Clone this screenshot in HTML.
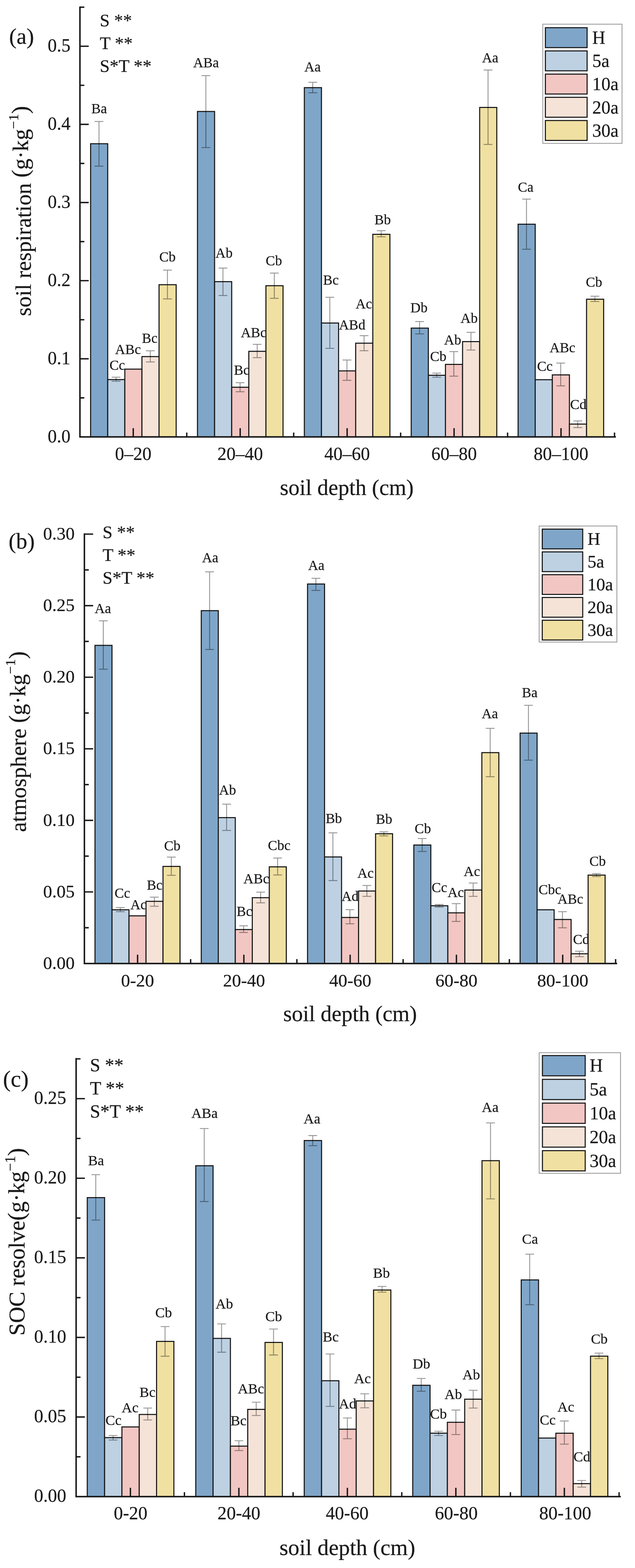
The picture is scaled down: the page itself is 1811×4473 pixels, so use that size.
<!DOCTYPE html>
<html lang="en">
<head>
<meta charset="utf-8">
<title>Soil respiration, atmosphere and SOC resolve by soil depth</title>
<style>
html,body{margin:0;padding:0;background:#fff;}
body{width:1811px;height:4473px;overflow:hidden;}
svg{display:block;font-family:'Liberation Serif', 'DejaVu Serif', serif;}
text{stroke:#1a1a1a;stroke-width:0.35px;paint-order:stroke;}
</style>
</head>
<body>
<svg width="1811" height="4473" viewBox="0 0 1811 4473">
<rect width="1811" height="4473" fill="#fff"/>
<g id="chart-a">
<g class="s0">
<rect x="258.4" y="410.0" width="48.8" height="836.4" fill="#7fa6c9" stroke="#161616" stroke-width="3"/>
<rect x="563.2" y="318.0" width="48.8" height="928.4" fill="#7fa6c9" stroke="#161616" stroke-width="3"/>
<rect x="868.0" y="250.0" width="48.8" height="996.4" fill="#7fa6c9" stroke="#161616" stroke-width="3"/>
<rect x="1172.8" y="936.0" width="48.8" height="310.4" fill="#7fa6c9" stroke="#161616" stroke-width="3"/>
<rect x="1477.6" y="639.6" width="48.8" height="606.8" fill="#7fa6c9" stroke="#161616" stroke-width="3"/>
<path d="M282.3 346.4V474.0M269.8 346.4H294.8M269.8 474.0H294.8" stroke="#000" stroke-opacity="0.42" stroke-width="2.5" fill="none"/>
<path d="M587.1 215.8V421.1M574.6 215.8H599.6M574.6 421.1H599.6" stroke="#000" stroke-opacity="0.42" stroke-width="2.5" fill="none"/>
<path d="M891.9 234.7V264.7M879.4 234.7H904.4M879.4 264.7H904.4" stroke="#000" stroke-opacity="0.42" stroke-width="2.5" fill="none"/>
<path d="M1196.7 917.3V952.5M1184.2 917.3H1209.2M1184.2 952.5H1209.2" stroke="#000" stroke-opacity="0.42" stroke-width="2.5" fill="none"/>
<path d="M1501.5 568.0V711.0M1489.0 568.0H1514.0M1489.0 711.0H1514.0" stroke="#000" stroke-opacity="0.42" stroke-width="2.5" fill="none"/>
<text x="282.8" y="323.4" font-size="40" text-anchor="middle" fill="#1a1a1a" class="bl">Ba</text>
<text x="587.6" y="192.4" font-size="40" text-anchor="middle" fill="#1a1a1a" class="bl">ABa</text>
<text x="891.4" y="204.3" font-size="40" text-anchor="middle" fill="#1a1a1a" class="bl">Aa</text>
<text x="1195.0" y="891.3" font-size="40" text-anchor="middle" fill="#1a1a1a" class="bl">Db</text>
<text x="1499.2" y="547.2" font-size="40" text-anchor="middle" fill="#1a1a1a" class="bl">Ca</text>
</g>
<g class="s1">
<rect x="307.2" y="1082.8" width="48.8" height="163.6" fill="#bdd1e3" stroke="#161616" stroke-width="3"/>
<rect x="612.0" y="803.5" width="48.8" height="442.9" fill="#bdd1e3" stroke="#161616" stroke-width="3"/>
<rect x="916.8" y="921.5" width="48.8" height="324.9" fill="#bdd1e3" stroke="#161616" stroke-width="3"/>
<rect x="1221.6" y="1070.5" width="48.8" height="175.9" fill="#bdd1e3" stroke="#161616" stroke-width="3"/>
<rect x="1526.4" y="1083.2" width="48.8" height="163.2" fill="#bdd1e3" stroke="#161616" stroke-width="3"/>
<path d="M331.1 1076.0V1087.6M318.6 1076.0H343.6M318.6 1087.6H343.6" stroke="#000" stroke-opacity="0.42" stroke-width="2.5" fill="none"/>
<path d="M635.9 764.7V843.0M623.4 764.7H648.4M623.4 843.0H648.4" stroke="#000" stroke-opacity="0.42" stroke-width="2.5" fill="none"/>
<path d="M940.7 848.0V993.7M928.2 848.0H953.2M928.2 993.7H953.2" stroke="#000" stroke-opacity="0.42" stroke-width="2.5" fill="none"/>
<path d="M1245.5 1064.4V1076.0M1233.0 1064.4H1258.0M1233.0 1076.0H1258.0" stroke="#000" stroke-opacity="0.42" stroke-width="2.5" fill="none"/>
<text x="334.4" y="1055.4" font-size="40" text-anchor="middle" fill="#1a1a1a" class="bl">Cc</text>
<text x="639.0" y="734.8" font-size="40" text-anchor="middle" fill="#1a1a1a" class="bl">Ab</text>
<text x="943.8" y="812.4" font-size="40" text-anchor="middle" fill="#1a1a1a" class="bl">Bc</text>
<text x="1249.8" y="1030.0" font-size="40" text-anchor="middle" fill="#1a1a1a" class="bl">Cb</text>
<text x="1553.9" y="1057.5" font-size="40" text-anchor="middle" fill="#1a1a1a" class="bl">Cc</text>
</g>
<g class="s2">
<rect x="356.0" y="1053.0" width="48.8" height="193.4" fill="#f2c6c2" stroke="#161616" stroke-width="3"/>
<rect x="660.8" y="1104.7" width="48.8" height="141.7" fill="#f2c6c2" stroke="#161616" stroke-width="3"/>
<rect x="965.6" y="1058.0" width="48.8" height="188.4" fill="#f2c6c2" stroke="#161616" stroke-width="3"/>
<rect x="1270.4" y="1039.5" width="48.8" height="206.9" fill="#f2c6c2" stroke="#161616" stroke-width="3"/>
<rect x="1575.2" y="1069.4" width="48.8" height="177.0" fill="#f2c6c2" stroke="#161616" stroke-width="3"/>
<path d="M684.7 1091.7V1117.5M672.2 1091.7H697.2M672.2 1117.5H697.2" stroke="#000" stroke-opacity="0.42" stroke-width="2.5" fill="none"/>
<path d="M989.5 1027.0V1085.0M977.0 1027.0H1002.0M977.0 1085.0H1002.0" stroke="#000" stroke-opacity="0.42" stroke-width="2.5" fill="none"/>
<path d="M1294.3 1003.0V1073.0M1281.8 1003.0H1306.8M1281.8 1073.0H1306.8" stroke="#000" stroke-opacity="0.42" stroke-width="2.5" fill="none"/>
<path d="M1599.1 1035.7V1100.7M1586.6 1035.7H1611.6M1586.6 1100.7H1611.6" stroke="#000" stroke-opacity="0.42" stroke-width="2.5" fill="none"/>
<text x="365.0" y="1010.0" font-size="40" text-anchor="middle" fill="#1a1a1a" class="bl">ABc</text>
<text x="689.4" y="1068.6" font-size="40" text-anchor="middle" fill="#1a1a1a" class="bl">Bc</text>
<text x="1004.2" y="940.2" font-size="40" text-anchor="middle" fill="#1a1a1a" class="bl">ABd</text>
<text x="1291.0" y="983.3" font-size="40" text-anchor="middle" fill="#1a1a1a" class="bl">Ab</text>
<text x="1604.2" y="1004.6" font-size="40" text-anchor="middle" fill="#1a1a1a" class="bl">ABc</text>
</g>
<g class="s3">
<rect x="404.8" y="1017.2" width="48.8" height="229.2" fill="#f5e3d8" stroke="#161616" stroke-width="3"/>
<rect x="709.6" y="1002.2" width="48.8" height="244.2" fill="#f5e3d8" stroke="#161616" stroke-width="3"/>
<rect x="1014.4" y="979.0" width="48.8" height="267.4" fill="#f5e3d8" stroke="#161616" stroke-width="3"/>
<rect x="1319.2" y="974.5" width="48.8" height="271.9" fill="#f5e3d8" stroke="#161616" stroke-width="3"/>
<rect x="1624.0" y="1209.8" width="48.8" height="36.6" fill="#f5e3d8" stroke="#161616" stroke-width="3"/>
<path d="M428.7 1000.7V1032.4M416.2 1000.7H441.2M416.2 1032.4H441.2" stroke="#000" stroke-opacity="0.42" stroke-width="2.5" fill="none"/>
<path d="M733.5 982.3V1020.3M721.0 982.3H746.0M721.0 1020.3H746.0" stroke="#000" stroke-opacity="0.42" stroke-width="2.5" fill="none"/>
<path d="M1038.3 957.4V1000.6M1025.8 957.4H1050.8M1025.8 1000.6H1050.8" stroke="#000" stroke-opacity="0.42" stroke-width="2.5" fill="none"/>
<path d="M1343.1 948.0V998.6M1330.6 948.0H1355.6M1330.6 998.6H1355.6" stroke="#000" stroke-opacity="0.42" stroke-width="2.5" fill="none"/>
<path d="M1647.9 1200.8V1219.8M1635.4 1200.8H1660.4M1635.4 1219.8H1660.4" stroke="#000" stroke-opacity="0.42" stroke-width="2.5" fill="none"/>
<text x="427.0" y="977.7" font-size="40" text-anchor="middle" fill="#1a1a1a" class="bl">Bc</text>
<text x="723.4" y="962.0" font-size="40" text-anchor="middle" fill="#1a1a1a" class="bl">ABc</text>
<text x="1037.6" y="879.7" font-size="40" text-anchor="middle" fill="#1a1a1a" class="bl">Ac</text>
<text x="1338.0" y="921.2" font-size="40" text-anchor="middle" fill="#1a1a1a" class="bl">Ab</text>
<text x="1649.4" y="1166.5" font-size="40" text-anchor="middle" fill="#1a1a1a" class="bl">Cd</text>
</g>
<g class="s4">
<rect x="453.6" y="812.2" width="48.8" height="434.2" fill="#f0e0a2" stroke="#161616" stroke-width="3"/>
<rect x="758.4" y="815.0" width="48.8" height="431.4" fill="#f0e0a2" stroke="#161616" stroke-width="3"/>
<rect x="1063.2" y="668.4" width="48.8" height="578.0" fill="#f0e0a2" stroke="#161616" stroke-width="3"/>
<rect x="1368.0" y="306.5" width="48.8" height="939.9" fill="#f0e0a2" stroke="#161616" stroke-width="3"/>
<rect x="1672.8" y="853.6" width="48.8" height="392.8" fill="#f0e0a2" stroke="#161616" stroke-width="3"/>
<path d="M477.5 770.4V852.7M465.0 770.4H490.0M465.0 852.7H490.0" stroke="#000" stroke-opacity="0.42" stroke-width="2.5" fill="none"/>
<path d="M782.3 779.0V851.0M769.8 779.0H794.8M769.8 851.0H794.8" stroke="#000" stroke-opacity="0.42" stroke-width="2.5" fill="none"/>
<path d="M1087.1 658.0V675.5M1074.6 658.0H1099.6M1074.6 675.5H1099.6" stroke="#000" stroke-opacity="0.42" stroke-width="2.5" fill="none"/>
<path d="M1391.9 199.7V412.0M1379.4 199.7H1404.4M1379.4 412.0H1404.4" stroke="#000" stroke-opacity="0.42" stroke-width="2.5" fill="none"/>
<path d="M1696.7 845.0V860.0M1684.2 845.0H1709.2M1684.2 860.0H1709.2" stroke="#000" stroke-opacity="0.42" stroke-width="2.5" fill="none"/>
<text x="477.6" y="746.3" font-size="40" text-anchor="middle" fill="#1a1a1a" class="bl">Cb</text>
<text x="781.2" y="757.2" font-size="40" text-anchor="middle" fill="#1a1a1a" class="bl">Cb</text>
<text x="1091.4" y="639.8" font-size="40" text-anchor="middle" fill="#1a1a1a" class="bl">Bb</text>
<text x="1398.0" y="178.4" font-size="40" text-anchor="middle" fill="#1a1a1a" class="bl">Aa</text>
<text x="1694.2" y="817.6" font-size="40" text-anchor="middle" fill="#1a1a1a" class="bl">Cb</text>
</g>
<path d="M228.0 18.4V1248.5M225.9 1246.4H1756.5" stroke="#161616" stroke-width="4.2" fill="none"/>
<path d="M228.0 1135.0h12.5M228.0 1023.5h25M228.0 912.1h12.5M228.0 800.6h25M228.0 689.2h12.5M228.0 577.7h25M228.0 466.3h12.5M228.0 354.8h25M228.0 243.4h12.5M228.0 131.9h25M228.0 20.5h12.5M380.0 1246.4v-25M685.0 1246.4v-25M990.0 1246.4v-25M1295.0 1246.4v-25M1600.0 1246.4v-25M532.6 1246.4v-12.5M837.6 1246.4v-12.5M1142.6 1246.4v-12.5M1447.6 1246.4v-12.5M1752.6 1246.4v-12.5" stroke="#161616" stroke-width="3.9" fill="none"/>
<text x="201.0" y="1261.7" font-size="52" text-anchor="end" fill="#1a1a1a" class="tk">0.0</text>
<text x="201.0" y="1038.8" font-size="52" text-anchor="end" fill="#1a1a1a" class="tk">0.1</text>
<text x="201.0" y="815.9" font-size="52" text-anchor="end" fill="#1a1a1a" class="tk">0.2</text>
<text x="201.0" y="593.0" font-size="52" text-anchor="end" fill="#1a1a1a" class="tk">0.3</text>
<text x="201.0" y="370.1" font-size="52" text-anchor="end" fill="#1a1a1a" class="tk">0.4</text>
<text x="201.0" y="147.2" font-size="52" text-anchor="end" fill="#1a1a1a" class="tk">0.5</text>
<text x="380.0" y="1312.0" font-size="52" text-anchor="middle" fill="#1a1a1a" class="tk">0–20</text>
<text x="685.0" y="1312.0" font-size="52" text-anchor="middle" fill="#1a1a1a" class="tk">20–40</text>
<text x="990.0" y="1312.0" font-size="52" text-anchor="middle" fill="#1a1a1a" class="tk">40–60</text>
<text x="1295.0" y="1312.0" font-size="52" text-anchor="middle" fill="#1a1a1a" class="tk">60–80</text>
<text x="1600.0" y="1312.0" font-size="52" text-anchor="middle" fill="#1a1a1a" class="tk">80–100</text>
<text x="989.0" y="1412.0" font-size="63" text-anchor="middle" fill="#1a1a1a" class="ttl">soil depth (cm)</text>
<text transform="translate(88.0 602.0) rotate(-90)" font-size="63.5" text-anchor="middle" fill="#1a1a1a" class="ttl">soil respiration <tspan dy="-8.0" font-size="67.3">(</tspan><tspan>g·kg</tspan><tspan dy="-27.6" font-size="40.6">−1</tspan><tspan dy="27.6" font-size="67.3">)</tspan></text>
<text x="26.0" y="124.8" font-size="64" text-anchor="start" fill="#1a1a1a" class="pn">(a)</text>
<text x="284.5" y="74.8" font-size="51" text-anchor="start" fill="#1a1a1a" class="st">S **</text>
<text x="284.5" y="140.1" font-size="51" text-anchor="start" fill="#1a1a1a" class="st">T **</text>
<text x="284.5" y="205.4" font-size="51" text-anchor="start" fill="#1a1a1a" class="st">S*T **</text>
<rect x="1548.0" y="69.0" width="226.0" height="340.0" fill="#fff" stroke="#a2a2a2" stroke-width="2.6"/>
<rect x="1555.4" y="79.0" width="119.0" height="56.8" fill="#7fa6c9" stroke="#161616" stroke-width="3"/>
<text x="1689.0" y="125.0" font-size="52" text-anchor="start" fill="#1a1a1a" class="lg">H</text>
<rect x="1555.4" y="145.2" width="119.0" height="56.8" fill="#bdd1e3" stroke="#161616" stroke-width="3"/>
<text x="1689.0" y="191.2" font-size="52" text-anchor="start" fill="#1a1a1a" class="lg">5a</text>
<rect x="1555.4" y="211.4" width="119.0" height="56.8" fill="#f2c6c2" stroke="#161616" stroke-width="3"/>
<text x="1689.0" y="257.4" font-size="52" text-anchor="start" fill="#1a1a1a" class="lg">10a</text>
<rect x="1555.4" y="277.6" width="119.0" height="56.8" fill="#f5e3d8" stroke="#161616" stroke-width="3"/>
<text x="1689.0" y="323.6" font-size="52" text-anchor="start" fill="#1a1a1a" class="lg">20a</text>
<rect x="1555.4" y="343.8" width="119.0" height="56.8" fill="#f0e0a2" stroke="#161616" stroke-width="3"/>
<text x="1689.0" y="389.8" font-size="52" text-anchor="start" fill="#1a1a1a" class="lg">30a</text>
</g>
<g id="chart-b">
<g class="s0">
<rect x="270.9" y="1841.0" width="48.5" height="907.6" fill="#7fa6c9" stroke="#161616" stroke-width="3"/>
<rect x="574.0" y="1742.0" width="48.5" height="1006.6" fill="#7fa6c9" stroke="#161616" stroke-width="3"/>
<rect x="877.1" y="1666.0" width="48.5" height="1082.6" fill="#7fa6c9" stroke="#161616" stroke-width="3"/>
<rect x="1180.2" y="2410.6" width="48.5" height="338.0" fill="#7fa6c9" stroke="#161616" stroke-width="3"/>
<rect x="1483.3" y="2091.3" width="48.5" height="657.3" fill="#7fa6c9" stroke="#161616" stroke-width="3"/>
<path d="M294.6 1771.0V1909.0M282.1 1771.0H307.1M282.1 1909.0H307.1" stroke="#000" stroke-opacity="0.42" stroke-width="2.5" fill="none"/>
<path d="M597.8 1631.2V1852.8M585.2 1631.2H610.2M585.2 1852.8H610.2" stroke="#000" stroke-opacity="0.42" stroke-width="2.5" fill="none"/>
<path d="M900.9 1649.7V1684.2M888.4 1649.7H913.4M888.4 1684.2H913.4" stroke="#000" stroke-opacity="0.42" stroke-width="2.5" fill="none"/>
<path d="M1204.0 2392.0V2429.0M1191.5 2392.0H1216.5M1191.5 2429.0H1216.5" stroke="#000" stroke-opacity="0.42" stroke-width="2.5" fill="none"/>
<path d="M1507.1 2012.0V2168.6M1494.6 2012.0H1519.6M1494.6 2168.6H1519.6" stroke="#000" stroke-opacity="0.42" stroke-width="2.5" fill="none"/>
<text x="293.4" y="1749.2" font-size="40" text-anchor="middle" fill="#1a1a1a" class="bl">Aa</text>
<text x="599.5" y="1604.2" font-size="40" text-anchor="middle" fill="#1a1a1a" class="bl">Aa</text>
<text x="902.0" y="1625.5" font-size="40" text-anchor="middle" fill="#1a1a1a" class="bl">Aa</text>
<text x="1205.8" y="2377.0" font-size="40" text-anchor="middle" fill="#1a1a1a" class="bl">Cb</text>
<text x="1510.7" y="1989.0" font-size="40" text-anchor="middle" fill="#1a1a1a" class="bl">Ba</text>
</g>
<g class="s1">
<rect x="319.4" y="2595.3" width="48.5" height="153.3" fill="#bdd1e3" stroke="#161616" stroke-width="3"/>
<rect x="622.5" y="2332.4" width="48.5" height="416.2" fill="#bdd1e3" stroke="#161616" stroke-width="3"/>
<rect x="925.6" y="2444.6" width="48.5" height="304.0" fill="#bdd1e3" stroke="#161616" stroke-width="3"/>
<rect x="1228.7" y="2583.8" width="48.5" height="164.8" fill="#bdd1e3" stroke="#161616" stroke-width="3"/>
<rect x="1531.8" y="2595.3" width="48.5" height="153.3" fill="#bdd1e3" stroke="#161616" stroke-width="3"/>
<path d="M343.1 2589.0V2600.7M330.6 2589.0H355.6M330.6 2600.7H355.6" stroke="#000" stroke-opacity="0.42" stroke-width="2.5" fill="none"/>
<path d="M646.2 2294.0V2368.9M633.8 2294.0H658.8M633.8 2368.9H658.8" stroke="#000" stroke-opacity="0.42" stroke-width="2.5" fill="none"/>
<path d="M949.4 2375.8V2512.0M936.9 2375.8H961.9M936.9 2512.0H961.9" stroke="#000" stroke-opacity="0.42" stroke-width="2.5" fill="none"/>
<path d="M1252.5 2580.3V2587.6M1240.0 2580.3H1265.0M1240.0 2587.6H1265.0" stroke="#000" stroke-opacity="0.42" stroke-width="2.5" fill="none"/>
<text x="349.0" y="2561.0" font-size="40" text-anchor="middle" fill="#1a1a1a" class="bl">Cc</text>
<text x="648.9" y="2266.5" font-size="40" text-anchor="middle" fill="#1a1a1a" class="bl">Ab</text>
<text x="952.0" y="2348.0" font-size="40" text-anchor="middle" fill="#1a1a1a" class="bl">Bb</text>
<text x="1253.2" y="2545.0" font-size="40" text-anchor="middle" fill="#1a1a1a" class="bl">Cc</text>
<text x="1568.2" y="2550.7" font-size="40" text-anchor="middle" fill="#1a1a1a" class="bl">Cbc</text>
</g>
<g class="s2">
<rect x="367.9" y="2612.6" width="48.5" height="136.0" fill="#f2c6c2" stroke="#161616" stroke-width="3"/>
<rect x="671.0" y="2651.7" width="48.5" height="96.9" fill="#f2c6c2" stroke="#161616" stroke-width="3"/>
<rect x="974.1" y="2617.2" width="48.5" height="131.4" fill="#f2c6c2" stroke="#161616" stroke-width="3"/>
<rect x="1277.2" y="2604.0" width="48.5" height="144.6" fill="#f2c6c2" stroke="#161616" stroke-width="3"/>
<rect x="1580.3" y="2623.0" width="48.5" height="125.6" fill="#f2c6c2" stroke="#161616" stroke-width="3"/>
<path d="M694.8 2641.0V2660.0M682.2 2641.0H707.2M682.2 2660.0H707.2" stroke="#000" stroke-opacity="0.42" stroke-width="2.5" fill="none"/>
<path d="M997.9 2595.0V2635.3M985.4 2595.0H1010.4M985.4 2635.3H1010.4" stroke="#000" stroke-opacity="0.42" stroke-width="2.5" fill="none"/>
<path d="M1301.0 2577.7V2628.4M1288.5 2577.7H1313.5M1288.5 2628.4H1313.5" stroke="#000" stroke-opacity="0.42" stroke-width="2.5" fill="none"/>
<path d="M1604.1 2600.7V2646.8M1591.6 2600.7H1616.6M1591.6 2646.8H1616.6" stroke="#000" stroke-opacity="0.42" stroke-width="2.5" fill="none"/>
<text x="395.0" y="2593.8" font-size="40" text-anchor="middle" fill="#1a1a1a" class="bl">Ac</text>
<text x="697.0" y="2612.8" font-size="40" text-anchor="middle" fill="#1a1a1a" class="bl">Bc</text>
<text x="998.4" y="2569.7" font-size="40" text-anchor="middle" fill="#1a1a1a" class="bl">Ad</text>
<text x="1299.8" y="2559.3" font-size="40" text-anchor="middle" fill="#1a1a1a" class="bl">Ac</text>
<text x="1626.6" y="2578.3" font-size="40" text-anchor="middle" fill="#1a1a1a" class="bl">ABc</text>
</g>
<g class="s3">
<rect x="416.4" y="2571.2" width="48.5" height="177.4" fill="#f5e3d8" stroke="#161616" stroke-width="3"/>
<rect x="719.5" y="2560.8" width="48.5" height="187.8" fill="#f5e3d8" stroke="#161616" stroke-width="3"/>
<rect x="1022.6" y="2541.8" width="48.5" height="206.8" fill="#f5e3d8" stroke="#161616" stroke-width="3"/>
<rect x="1325.7" y="2539.0" width="48.5" height="209.6" fill="#f5e3d8" stroke="#161616" stroke-width="3"/>
<rect x="1628.8" y="2720.8" width="48.5" height="27.8" fill="#f5e3d8" stroke="#161616" stroke-width="3"/>
<path d="M440.1 2559.3V2585.2M427.6 2559.3H452.6M427.6 2585.2H452.6" stroke="#000" stroke-opacity="0.42" stroke-width="2.5" fill="none"/>
<path d="M743.2 2545.0V2575.4M730.8 2545.0H755.8M730.8 2575.4H755.8" stroke="#000" stroke-opacity="0.42" stroke-width="2.5" fill="none"/>
<path d="M1046.3 2526.0V2557.0M1033.8 2526.0H1058.8M1033.8 2557.0H1058.8" stroke="#000" stroke-opacity="0.42" stroke-width="2.5" fill="none"/>
<path d="M1349.5 2519.0V2557.0M1337.0 2519.0H1362.0M1337.0 2557.0H1362.0" stroke="#000" stroke-opacity="0.42" stroke-width="2.5" fill="none"/>
<path d="M1652.6 2713.5V2729.0M1640.1 2713.5H1665.1M1640.1 2729.0H1665.1" stroke="#000" stroke-opacity="0.42" stroke-width="2.5" fill="none"/>
<text x="441.0" y="2537.5" font-size="40" text-anchor="middle" fill="#1a1a1a" class="bl">Bc</text>
<text x="731.0" y="2520.2" font-size="40" text-anchor="middle" fill="#1a1a1a" class="bl">ABc</text>
<text x="1042.5" y="2503.5" font-size="40" text-anchor="middle" fill="#1a1a1a" class="bl">Ac</text>
<text x="1345.9" y="2499.0" font-size="40" text-anchor="middle" fill="#1a1a1a" class="bl">Ac</text>
<text x="1657.7" y="2693.4" font-size="40" text-anchor="middle" fill="#1a1a1a" class="bl">Cd</text>
</g>
<g class="s4">
<rect x="464.9" y="2471.6" width="48.5" height="277.0" fill="#f0e0a2" stroke="#161616" stroke-width="3"/>
<rect x="768.0" y="2472.8" width="48.5" height="275.8" fill="#f0e0a2" stroke="#161616" stroke-width="3"/>
<rect x="1071.1" y="2378.4" width="48.5" height="370.2" fill="#f0e0a2" stroke="#161616" stroke-width="3"/>
<rect x="1374.2" y="2147.0" width="48.5" height="601.6" fill="#f0e0a2" stroke="#161616" stroke-width="3"/>
<rect x="1677.3" y="2496.4" width="48.5" height="252.2" fill="#f0e0a2" stroke="#161616" stroke-width="3"/>
<path d="M488.6 2445.0V2497.0M476.1 2445.0H501.1M476.1 2497.0H501.1" stroke="#000" stroke-opacity="0.42" stroke-width="2.5" fill="none"/>
<path d="M791.8 2447.7V2496.0M779.2 2447.7H804.2M779.2 2496.0H804.2" stroke="#000" stroke-opacity="0.42" stroke-width="2.5" fill="none"/>
<path d="M1094.8 2372.9V2384.4M1082.3 2372.9H1107.3M1082.3 2384.4H1107.3" stroke="#000" stroke-opacity="0.42" stroke-width="2.5" fill="none"/>
<path d="M1398.0 2077.7V2215.8M1385.5 2077.7H1410.5M1385.5 2215.8H1410.5" stroke="#000" stroke-opacity="0.42" stroke-width="2.5" fill="none"/>
<path d="M1701.1 2492.0V2500.6M1688.6 2492.0H1713.6M1688.6 2500.6H1713.6" stroke="#000" stroke-opacity="0.42" stroke-width="2.5" fill="none"/>
<text x="491.3" y="2426.4" font-size="40" text-anchor="middle" fill="#1a1a1a" class="bl">Cb</text>
<text x="796.2" y="2425.3" font-size="40" text-anchor="middle" fill="#1a1a1a" class="bl">Cbc</text>
<text x="1095.4" y="2350.0" font-size="40" text-anchor="middle" fill="#1a1a1a" class="bl">Bb</text>
<text x="1397.0" y="2049.0" font-size="40" text-anchor="middle" fill="#1a1a1a" class="bl">Aa</text>
<text x="1704.3" y="2470.0" font-size="40" text-anchor="middle" fill="#1a1a1a" class="bl">Cb</text>
</g>
<path d="M240.7 1521.5V2750.7M238.6 2748.6H1760.0" stroke="#161616" stroke-width="4.2" fill="none"/>
<path d="M240.7 2646.5h12.5M240.7 2544.4h25M240.7 2442.3h12.5M240.7 2340.3h25M240.7 2238.2h12.5M240.7 2136.1h25M240.7 2034.0h12.5M240.7 1931.9h25M240.7 1829.8h12.5M240.7 1727.8h25M240.7 1625.7h12.5M240.7 1523.6h25M392.4 2748.6v-25M695.5 2748.6v-25M998.6 2748.6v-25M1301.7 2748.6v-25M1604.8 2748.6v-25M543.7 2748.6v-12.5M846.7 2748.6v-12.5M1149.7 2748.6v-12.5M1452.7 2748.6v-12.5M1755.7 2748.6v-12.5" stroke="#161616" stroke-width="3.9" fill="none"/>
<text x="213.0" y="2763.9" font-size="51.5" text-anchor="end" fill="#1a1a1a" class="tk">0.00</text>
<text x="213.0" y="2559.7" font-size="51.5" text-anchor="end" fill="#1a1a1a" class="tk">0.05</text>
<text x="213.0" y="2355.6" font-size="51.5" text-anchor="end" fill="#1a1a1a" class="tk">0.10</text>
<text x="213.0" y="2151.4" font-size="51.5" text-anchor="end" fill="#1a1a1a" class="tk">0.15</text>
<text x="213.0" y="1947.2" font-size="51.5" text-anchor="end" fill="#1a1a1a" class="tk">0.20</text>
<text x="213.0" y="1743.0" font-size="51.5" text-anchor="end" fill="#1a1a1a" class="tk">0.25</text>
<text x="213.0" y="1538.9" font-size="51.5" text-anchor="end" fill="#1a1a1a" class="tk">0.30</text>
<text x="392.4" y="2813.6" font-size="51.5" text-anchor="middle" fill="#1a1a1a" class="tk">0-20</text>
<text x="696.0" y="2813.6" font-size="51.5" text-anchor="middle" fill="#1a1a1a" class="tk">20-40</text>
<text x="999.0" y="2813.6" font-size="51.5" text-anchor="middle" fill="#1a1a1a" class="tk">40-60</text>
<text x="1301.8" y="2813.6" font-size="51.5" text-anchor="middle" fill="#1a1a1a" class="tk">60-80</text>
<text x="1605.0" y="2813.6" font-size="51.5" text-anchor="middle" fill="#1a1a1a" class="tk">80-100</text>
<text x="998.4" y="2913.2" font-size="63" text-anchor="middle" fill="#1a1a1a" class="ttl">soil depth (cm)</text>
<text transform="translate(74.2 2115.6) rotate(-90)" font-size="64" text-anchor="middle" fill="#1a1a1a" class="ttl">atmosphere <tspan dy="-2.0" font-size="66.8">(</tspan><tspan>g·kg</tspan><tspan dy="-29.0" font-size="40.3">−1</tspan><tspan dy="29.0" font-size="66.8">)</tspan></text>
<text x="24.5" y="1564.8" font-size="64" text-anchor="start" fill="#1a1a1a" class="pn">(b)</text>
<text x="292.4" y="1535.2" font-size="51" text-anchor="start" fill="#1a1a1a" class="st">S **</text>
<text x="292.4" y="1600.0" font-size="51" text-anchor="start" fill="#1a1a1a" class="st">T **</text>
<text x="292.4" y="1664.8" font-size="51" text-anchor="start" fill="#1a1a1a" class="st">S*T **</text>
<rect x="1537.7" y="1500.6" width="221.6" height="331.0" fill="#fff" stroke="#a2a2a2" stroke-width="2.6"/>
<rect x="1546.5" y="1509.4" width="115.4" height="56.3" fill="#7fa6c9" stroke="#161616" stroke-width="3"/>
<text x="1675.5" y="1553.6" font-size="50.5" text-anchor="start" fill="#1a1a1a" class="lg">H</text>
<rect x="1546.5" y="1574.4" width="115.4" height="56.3" fill="#bdd1e3" stroke="#161616" stroke-width="3"/>
<text x="1675.5" y="1618.6" font-size="50.5" text-anchor="start" fill="#1a1a1a" class="lg">5a</text>
<rect x="1546.5" y="1639.4" width="115.4" height="56.3" fill="#f2c6c2" stroke="#161616" stroke-width="3"/>
<text x="1675.5" y="1683.6" font-size="50.5" text-anchor="start" fill="#1a1a1a" class="lg">10a</text>
<rect x="1546.5" y="1704.4" width="115.4" height="56.3" fill="#f5e3d8" stroke="#161616" stroke-width="3"/>
<text x="1675.5" y="1748.6" font-size="50.5" text-anchor="start" fill="#1a1a1a" class="lg">20a</text>
<rect x="1546.5" y="1769.4" width="115.4" height="56.3" fill="#f0e0a2" stroke="#161616" stroke-width="3"/>
<text x="1675.5" y="1813.6" font-size="50.5" text-anchor="start" fill="#1a1a1a" class="lg">30a</text>
</g>
<g id="chart-c">
<g class="s0">
<rect x="248.9" y="3416.4" width="49.4" height="852.9" fill="#7fa6c9" stroke="#161616" stroke-width="3"/>
<rect x="558.3" y="3325.5" width="49.4" height="943.8" fill="#7fa6c9" stroke="#161616" stroke-width="3"/>
<rect x="867.7" y="3253.6" width="49.4" height="1015.7" fill="#7fa6c9" stroke="#161616" stroke-width="3"/>
<rect x="1177.1" y="3951.8" width="49.4" height="317.5" fill="#7fa6c9" stroke="#161616" stroke-width="3"/>
<rect x="1486.5" y="3651.2" width="49.4" height="618.1" fill="#7fa6c9" stroke="#161616" stroke-width="3"/>
<path d="M273.1 3351.0V3480.5M260.6 3351.0H285.6M260.6 3480.5H285.6" stroke="#000" stroke-opacity="0.4" stroke-width="2.6" fill="none"/>
<path d="M582.5 3219.3V3427.6M570.0 3219.3H595.0M570.0 3427.6H595.0" stroke="#000" stroke-opacity="0.4" stroke-width="2.6" fill="none"/>
<path d="M891.9 3239.4V3268.2M879.4 3239.4H904.4M879.4 3268.2H904.4" stroke="#000" stroke-opacity="0.4" stroke-width="2.6" fill="none"/>
<path d="M1201.3 3932.3V3968.7M1188.8 3932.3H1213.8M1188.8 3968.7H1213.8" stroke="#000" stroke-opacity="0.4" stroke-width="2.6" fill="none"/>
<path d="M1510.7 3577.7V3722.0M1498.2 3577.7H1523.2M1498.2 3722.0H1523.2" stroke="#000" stroke-opacity="0.4" stroke-width="2.6" fill="none"/>
<text x="273.9" y="3324.0" font-size="41" text-anchor="middle" fill="#1a1a1a" class="bl">Ba</text>
<text x="583.3" y="3188.8" font-size="41" text-anchor="middle" fill="#1a1a1a" class="bl">ABa</text>
<text x="889.7" y="3204.9" font-size="41" text-anchor="middle" fill="#1a1a1a" class="bl">Aa</text>
<text x="1202.0" y="3904.3" font-size="41" text-anchor="middle" fill="#1a1a1a" class="bl">Db</text>
<text x="1511.6" y="3547.8" font-size="41" text-anchor="middle" fill="#1a1a1a" class="bl">Ca</text>
</g>
<g class="s1">
<rect x="298.3" y="4101.0" width="49.4" height="168.3" fill="#bdd1e3" stroke="#161616" stroke-width="3"/>
<rect x="607.7" y="3818.0" width="49.4" height="451.3" fill="#bdd1e3" stroke="#161616" stroke-width="3"/>
<rect x="917.1" y="3938.8" width="49.4" height="330.5" fill="#bdd1e3" stroke="#161616" stroke-width="3"/>
<rect x="1226.5" y="4088.4" width="49.4" height="180.9" fill="#bdd1e3" stroke="#161616" stroke-width="3"/>
<rect x="1535.9" y="4102.3" width="49.4" height="167.0" fill="#bdd1e3" stroke="#161616" stroke-width="3"/>
<path d="M322.5 4095.0V4108.0M310.0 4095.0H335.0M310.0 4108.0H335.0" stroke="#000" stroke-opacity="0.4" stroke-width="2.6" fill="none"/>
<path d="M631.9 3776.8V3857.4M619.4 3776.8H644.4M619.4 3857.4H644.4" stroke="#000" stroke-opacity="0.4" stroke-width="2.6" fill="none"/>
<path d="M941.3 3862.5V4012.0M928.8 3862.5H953.8M928.8 4012.0H953.8" stroke="#000" stroke-opacity="0.4" stroke-width="2.6" fill="none"/>
<path d="M1250.7 4083.0V4095.0M1238.2 4083.0H1263.2M1238.2 4095.0H1263.2" stroke="#000" stroke-opacity="0.4" stroke-width="2.6" fill="none"/>
<text x="323.6" y="4065.0" font-size="41" text-anchor="middle" fill="#1a1a1a" class="bl">Cc</text>
<text x="639.7" y="3733.0" font-size="41" text-anchor="middle" fill="#1a1a1a" class="bl">Ab</text>
<text x="943.2" y="3826.9" font-size="41" text-anchor="middle" fill="#1a1a1a" class="bl">Bc</text>
<text x="1250.5" y="4047.4" font-size="41" text-anchor="middle" fill="#1a1a1a" class="bl">Cb</text>
<text x="1562.0" y="4064.0" font-size="41" text-anchor="middle" fill="#1a1a1a" class="bl">Cc</text>
</g>
<g class="s2">
<rect x="347.7" y="4070.6" width="49.4" height="198.7" fill="#f2c6c2" stroke="#161616" stroke-width="3"/>
<rect x="657.1" y="4125.3" width="49.4" height="144.0" fill="#f2c6c2" stroke="#161616" stroke-width="3"/>
<rect x="966.5" y="4077.0" width="49.4" height="192.3" fill="#f2c6c2" stroke="#161616" stroke-width="3"/>
<rect x="1275.9" y="4057.3" width="49.4" height="212.0" fill="#f2c6c2" stroke="#161616" stroke-width="3"/>
<rect x="1585.3" y="4088.5" width="49.4" height="180.8" fill="#f2c6c2" stroke="#161616" stroke-width="3"/>
<path d="M681.3 4110.0V4138.0M668.8 4110.0H693.8M668.8 4138.0H693.8" stroke="#000" stroke-opacity="0.4" stroke-width="2.6" fill="none"/>
<path d="M990.7 4045.0V4104.2M978.2 4045.0H1003.2M978.2 4104.2H1003.2" stroke="#000" stroke-opacity="0.4" stroke-width="2.6" fill="none"/>
<path d="M1300.1 4022.4V4092.2M1287.6 4022.4H1312.6M1287.6 4092.2H1312.6" stroke="#000" stroke-opacity="0.4" stroke-width="2.6" fill="none"/>
<path d="M1609.5 4053.6V4119.7M1597.0 4053.6H1622.0M1597.0 4119.7H1622.0" stroke="#000" stroke-opacity="0.4" stroke-width="2.6" fill="none"/>
<text x="371.0" y="4029.4" font-size="41" text-anchor="middle" fill="#1a1a1a" class="bl">Ac</text>
<text x="680.3" y="4066.2" font-size="41" text-anchor="middle" fill="#1a1a1a" class="bl">Bc</text>
<text x="991.2" y="4017.9" font-size="41" text-anchor="middle" fill="#1a1a1a" class="bl">Ad</text>
<text x="1292.7" y="3990.6" font-size="41" text-anchor="middle" fill="#1a1a1a" class="bl">Ab</text>
<text x="1613.7" y="4026.5" font-size="41" text-anchor="middle" fill="#1a1a1a" class="bl">Ac</text>
</g>
<g class="s3">
<rect x="397.1" y="4035.0" width="49.4" height="234.3" fill="#f5e3d8" stroke="#161616" stroke-width="3"/>
<rect x="706.5" y="4020.5" width="49.4" height="248.8" fill="#f5e3d8" stroke="#161616" stroke-width="3"/>
<rect x="1015.9" y="3996.4" width="49.4" height="272.9" fill="#f5e3d8" stroke="#161616" stroke-width="3"/>
<rect x="1325.3" y="3991.4" width="49.4" height="277.9" fill="#f5e3d8" stroke="#161616" stroke-width="3"/>
<rect x="1634.7" y="4232.3" width="49.4" height="37.0" fill="#f5e3d8" stroke="#161616" stroke-width="3"/>
<path d="M421.3 4016.7V4050.7M408.8 4016.7H433.8M408.8 4050.7H433.8" stroke="#000" stroke-opacity="0.4" stroke-width="2.6" fill="none"/>
<path d="M730.7 4000.0V4038.0M718.2 4000.0H743.2M718.2 4038.0H743.2" stroke="#000" stroke-opacity="0.4" stroke-width="2.6" fill="none"/>
<path d="M1040.1 3976.0V4016.0M1027.6 3976.0H1052.6M1027.6 4016.0H1052.6" stroke="#000" stroke-opacity="0.4" stroke-width="2.6" fill="none"/>
<path d="M1349.5 3966.0V4016.7M1337.0 3966.0H1362.0M1337.0 4016.7H1362.0" stroke="#000" stroke-opacity="0.4" stroke-width="2.6" fill="none"/>
<path d="M1658.9 4223.3V4242.3M1646.4 4223.3H1671.4M1646.4 4242.3H1671.4" stroke="#000" stroke-opacity="0.4" stroke-width="2.6" fill="none"/>
<text x="420.6" y="3984.5" font-size="41" text-anchor="middle" fill="#1a1a1a" class="bl">Bc</text>
<text x="715.5" y="3975.0" font-size="41" text-anchor="middle" fill="#1a1a1a" class="bl">ABc</text>
<text x="1033.8" y="3946.0" font-size="41" text-anchor="middle" fill="#1a1a1a" class="bl">Ac</text>
<text x="1344.0" y="3935.4" font-size="41" text-anchor="middle" fill="#1a1a1a" class="bl">Ab</text>
<text x="1659.5" y="4168.6" font-size="41" text-anchor="middle" fill="#1a1a1a" class="bl">Cd</text>
</g>
<g class="s4">
<rect x="446.5" y="3826.6" width="49.4" height="442.7" fill="#f0e0a2" stroke="#161616" stroke-width="3"/>
<rect x="755.9" y="3829.5" width="49.4" height="439.8" fill="#f0e0a2" stroke="#161616" stroke-width="3"/>
<rect x="1065.3" y="3680.0" width="49.4" height="589.3" fill="#f0e0a2" stroke="#161616" stroke-width="3"/>
<rect x="1374.7" y="3311.0" width="49.4" height="958.3" fill="#f0e0a2" stroke="#161616" stroke-width="3"/>
<rect x="1684.1" y="3868.7" width="49.4" height="400.6" fill="#f0e0a2" stroke="#161616" stroke-width="3"/>
<path d="M470.7 3784.3V3868.9M458.2 3784.3H483.2M458.2 3868.9H483.2" stroke="#000" stroke-opacity="0.4" stroke-width="2.6" fill="none"/>
<path d="M780.1 3791.2V3865.4M767.6 3791.2H792.6M767.6 3865.4H792.6" stroke="#000" stroke-opacity="0.4" stroke-width="2.6" fill="none"/>
<path d="M1089.5 3669.8V3686.0M1077.0 3669.8H1102.0M1077.0 3686.0H1102.0" stroke="#000" stroke-opacity="0.4" stroke-width="2.6" fill="none"/>
<path d="M1398.9 3203.2V3420.0M1386.4 3203.2H1411.4M1386.4 3420.0H1411.4" stroke="#000" stroke-opacity="0.4" stroke-width="2.6" fill="none"/>
<path d="M1708.3 3860.0V3875.8M1695.8 3860.0H1720.8M1695.8 3875.8H1720.8" stroke="#000" stroke-opacity="0.4" stroke-width="2.6" fill="none"/>
<text x="466.6" y="3757.8" font-size="41" text-anchor="middle" fill="#1a1a1a" class="bl">Cb</text>
<text x="780.7" y="3769.3" font-size="41" text-anchor="middle" fill="#1a1a1a" class="bl">Cb</text>
<text x="1088.0" y="3644.5" font-size="41" text-anchor="middle" fill="#1a1a1a" class="bl">Bb</text>
<text x="1398.0" y="3171.5" font-size="41" text-anchor="middle" fill="#1a1a1a" class="bl">Aa</text>
<text x="1709.2" y="3832.6" font-size="41" text-anchor="middle" fill="#1a1a1a" class="bl">Cb</text>
</g>
<path d="M217.1 3018.3V4271.4M215.0 4269.3H1770.5" stroke="#161616" stroke-width="4.2" fill="none"/>
<path d="M217.1 4155.8h12.5M217.1 4042.3h25M217.1 3928.7h12.5M217.1 3815.2h25M217.1 3701.7h12.5M217.1 3588.2h25M217.1 3474.7h12.5M217.1 3361.1h25M217.1 3247.6h12.5M217.1 3134.1h25M217.1 3020.6h12.5M371.9 4269.3v-25M681.3 4269.3v-25M990.7 4269.3v-25M1300.1 4269.3v-25M1609.5 4269.3v-25M526.0 4269.3v-12.5M835.9 4269.3v-12.5M1145.8 4269.3v-12.5M1455.7 4269.3v-12.5M1765.6 4269.3v-12.5" stroke="#161616" stroke-width="3.9" fill="none"/>
<text x="189.0" y="4284.1" font-size="52.4" text-anchor="end" fill="#1a1a1a" class="tk">0.00</text>
<text x="189.0" y="4057.1" font-size="52.4" text-anchor="end" fill="#1a1a1a" class="tk">0.05</text>
<text x="189.0" y="3830.0" font-size="52.4" text-anchor="end" fill="#1a1a1a" class="tk">0.10</text>
<text x="189.0" y="3603.0" font-size="52.4" text-anchor="end" fill="#1a1a1a" class="tk">0.15</text>
<text x="189.0" y="3375.9" font-size="52.4" text-anchor="end" fill="#1a1a1a" class="tk">0.20</text>
<text x="189.0" y="3148.9" font-size="52.4" text-anchor="end" fill="#1a1a1a" class="tk">0.25</text>
<text x="372.5" y="4334.3" font-size="52.4" text-anchor="middle" fill="#1a1a1a" class="tk">0-20</text>
<text x="681.4" y="4334.3" font-size="52.4" text-anchor="middle" fill="#1a1a1a" class="tk">20-40</text>
<text x="990.0" y="4334.3" font-size="52.4" text-anchor="middle" fill="#1a1a1a" class="tk">40-60</text>
<text x="1301.3" y="4334.3" font-size="52.4" text-anchor="middle" fill="#1a1a1a" class="tk">60-80</text>
<text x="1612.0" y="4334.3" font-size="52.4" text-anchor="middle" fill="#1a1a1a" class="tk">80-100</text>
<text x="990.7" y="4436.2" font-size="64" text-anchor="middle" fill="#1a1a1a" class="ttl">soil depth (cm)</text>
<text transform="translate(70.2 3542.4) rotate(-90)" font-size="64.5" text-anchor="middle" fill="#1a1a1a" class="ttl">SOC resolve<tspan dy="-1.0" font-size="68.4">(</tspan><tspan>g·kg</tspan><tspan dy="-26.0" font-size="41.3">−1</tspan><tspan dy="26.0" font-size="68.4">)</tspan></text>
<text x="8.5" y="3099.8" font-size="66" text-anchor="start" fill="#1a1a1a" class="pn">(c)</text>
<text x="256.5" y="3056.4" font-size="53" text-anchor="start" fill="#1a1a1a" class="st">S **</text>
<text x="256.5" y="3122.0" font-size="53" text-anchor="start" fill="#1a1a1a" class="st">T **</text>
<text x="256.5" y="3187.6" font-size="53" text-anchor="start" fill="#1a1a1a" class="st">S*T **</text>
<rect x="1537.7" y="3003.0" width="232.0" height="344.0" fill="#fff" stroke="#a2a2a2" stroke-width="2.6"/>
<rect x="1547.0" y="3011.2" width="122.0" height="57.8" fill="#7fa6c9" stroke="#161616" stroke-width="3"/>
<text x="1681.5" y="3057.4" font-size="52.5" text-anchor="start" fill="#1a1a1a" class="lg">H</text>
<rect x="1547.0" y="3079.0" width="122.0" height="57.8" fill="#bdd1e3" stroke="#161616" stroke-width="3"/>
<text x="1681.5" y="3125.2" font-size="52.5" text-anchor="start" fill="#1a1a1a" class="lg">5a</text>
<rect x="1547.0" y="3146.8" width="122.0" height="57.8" fill="#f2c6c2" stroke="#161616" stroke-width="3"/>
<text x="1681.5" y="3193.0" font-size="52.5" text-anchor="start" fill="#1a1a1a" class="lg">10a</text>
<rect x="1547.0" y="3214.6" width="122.0" height="57.8" fill="#f5e3d8" stroke="#161616" stroke-width="3"/>
<text x="1681.5" y="3260.8" font-size="52.5" text-anchor="start" fill="#1a1a1a" class="lg">20a</text>
<rect x="1547.0" y="3282.4" width="122.0" height="57.8" fill="#f0e0a2" stroke="#161616" stroke-width="3"/>
<text x="1681.5" y="3328.6" font-size="52.5" text-anchor="start" fill="#1a1a1a" class="lg">30a</text>
</g>
</svg>
</body>
</html>
